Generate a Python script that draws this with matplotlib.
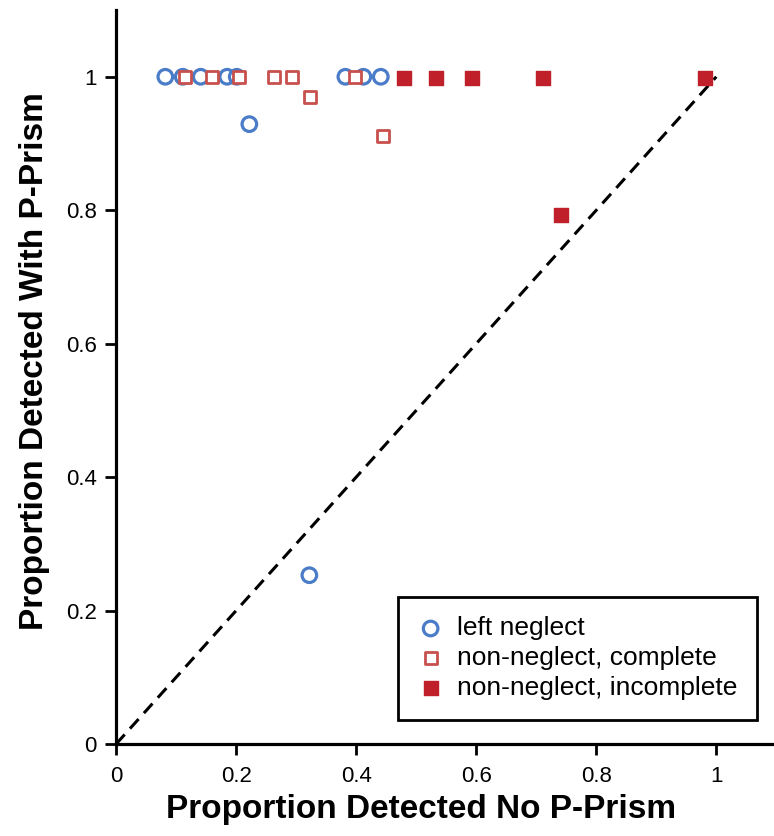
import matplotlib.pyplot as plt

plt.rcParams['font.family'] = ['Liberation Sans', 'DejaVu Sans']

# left neglect (open blue circles)
ln_x = [0.082, 0.111, 0.141, 0.185, 0.201, 0.382, 0.412, 0.441, 0.222, 0.322]
ln_y = [1.0, 1.0, 1.0, 1.0, 1.0, 1.0, 1.0, 1.0, 0.929, 0.253]

# non-neglect, complete (open red squares)
nc_x = [0.115, 0.159, 0.204, 0.263, 0.293, 0.323, 0.398, 0.444]
nc_y = [1.0, 1.0, 1.0, 1.0, 1.0, 0.970, 1.0, 0.911]

# non-neglect, incomplete (filled red squares)
ni_x = [0.479, 0.533, 0.593, 0.712, 0.982, 0.742]
ni_y = [0.998, 0.998, 0.998, 0.998, 0.998, 0.793]

fig = plt.figure(figsize=(7.74, 8.36), dpi=100)
ax = fig.add_axes([0.150, 0.110, 0.853, 0.878])

# identity line
ax.plot([0, 1], [0, 1], color='black', linestyle=(0, (4.2, 2.6)), linewidth=2.2, zorder=1)

ax.scatter(ln_x, ln_y, s=110, facecolors='none', edgecolors='#4a7cc8', linewidths=2.3,
           marker='o', label='left neglect', zorder=3)
ax.scatter(nc_x, nc_y, s=65, facecolors='white', edgecolors='#c8504d', linewidths=2.0,
           marker='s', label='non-neglect, complete', zorder=3)
ax.scatter(ni_x, ni_y, s=110, color='#c0202a', marker='s',
           label='non-neglect, incomplete', zorder=3)

ax.set_xlim(0, 1.1)
ax.set_ylim(0, 1.1)
ax.set_xticks([0, 0.2, 0.4, 0.6, 0.8, 1])
ax.set_xticklabels(['0', '0.2', '0.4', '0.6', '0.8', '1'])
ax.set_yticks([0, 0.2, 0.4, 0.6, 0.8, 1])
ax.set_yticklabels(['0', '0.2', '0.4', '0.6', '0.8', '1'])

for s in ['top', 'right']:
    ax.spines[s].set_visible(False)
for s in ['left', 'bottom']:
    ax.spines[s].set_linewidth(2.3)
ax.tick_params(direction='out', length=8, width=2.0, labelsize=16)
ax.tick_params(axis='x', pad=8)
ax.tick_params(axis='y', pad=6)

ax.set_xlabel('Proportion Detected No P-Prism', fontsize=24, fontweight='bold')
ax.set_ylabel('Proportion Detected With P-Prism', fontsize=24, fontweight='bold')
ax.xaxis.set_label_coords(0.462, -0.068)
ax.yaxis.set_label_coords(-0.10, 0.522)

leg = ax.legend(loc='lower right', bbox_to_anchor=(0.971, 0.033), borderaxespad=0,
                fontsize=19, fancybox=False, framealpha=1, edgecolor='black',
                borderpad=0.75, handletextpad=0.5, labelspacing=0.22, handlelength=1.0)
leg.get_frame().set_linewidth(2)

fig.savefig('out.png', dpi=100)
